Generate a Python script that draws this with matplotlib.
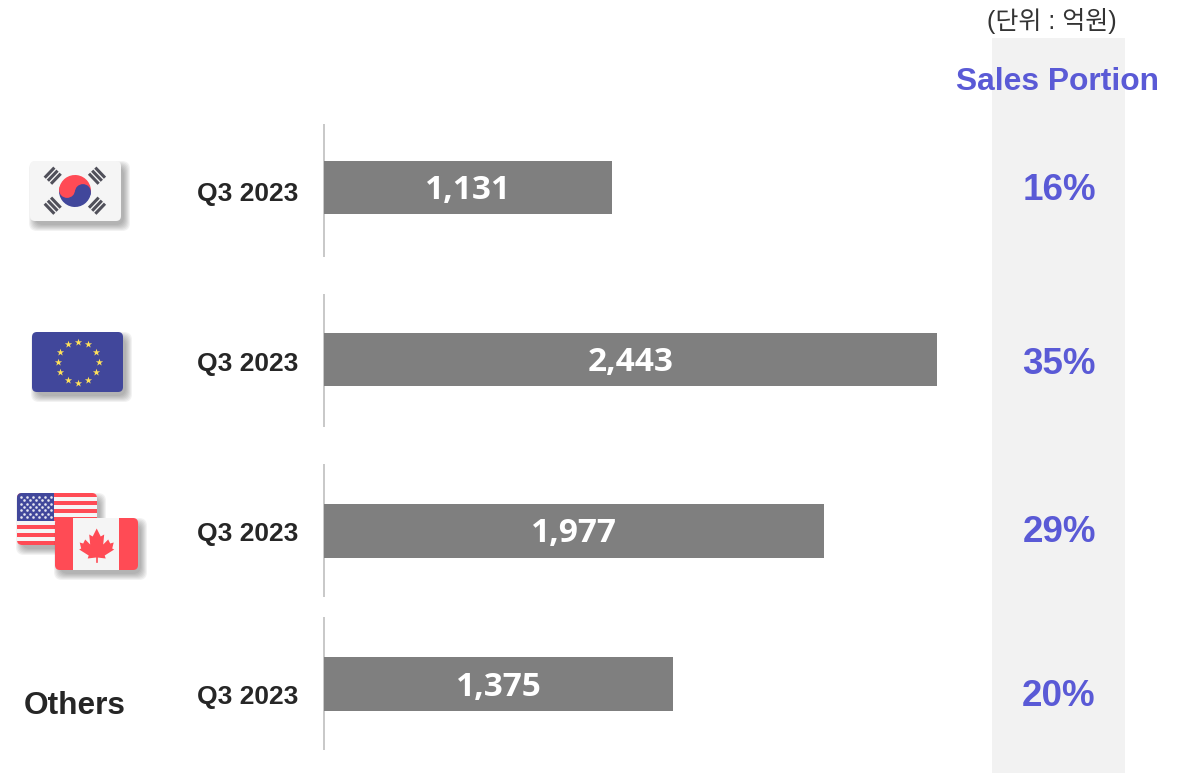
#!/usr/bin/env python3
"""Q3 2023 sales by region, one small bar chart per row, with flags and sales portion."""

import numpy as np
import matplotlib
matplotlib.use('Agg')
import matplotlib.pyplot as plt
from matplotlib.patches import Circle, FancyBboxPatch, Polygon, Rectangle, Wedge

W, H = 1186, 773

PERIODS = ['Q3 2023', 'Q3 2023', 'Q3 2023', 'Q3 2023']
SALES = [1131, 2443, 1977, 1375]
PORTIONS = ['16%', '35%', '29%', '20%']

# every row is its own little chart, each with a slightly different scale
ROW_XMAX = [2655, 2694, 2673, 2664]
ROW_TOP = [124, 294, 464, 617]
ROW_BOTTOM = [257, 427, 597, 750]
BAR_CENTER = [187.5, 359.5, 531, 684]
LABEL_Y = [194, 364, 534, 697]
PORTION_Y = [190, 364, 533, 697]

GREY = '#7f7f7f'
PURPLE = '#5a5ad6'
DARK = '#262626'
RED = '#ff4b55'
BLUE = '#41479b'
SANS = 'Liberation Sans'


def flag_base(ax, x0, y0, x1, y1, color):
    # soft shadow built from stacked translucent boxes
    for pad in [10, 8, 6, 4, 2, 0, -2]:
        ax.add_patch(FancyBboxPatch(
            (x0 + 4 - pad / 2, y0 + 5 - pad / 2), x1 - x0 + pad, y1 - y0 + pad,
            boxstyle='round,pad=0,rounding_size=8', fc='#404040', ec='none', alpha=0.065))
    base = FancyBboxPatch((x0, y0), x1 - x0, y1 - y0,
                          boxstyle='round,pad=0,rounding_size=5', fc=color, ec='none')
    ax.add_patch(base)
    return base


def clipped_rect(ax, base, x, y, w, h, color):
    r = Rectangle((x, y), w, h, fc=color, ec='none')
    ax.add_patch(r)
    r.set_clip_path(base)


def korea(ax):
    flag_base(ax, 30, 161, 121, 221, '#f5f5f5')
    cx, cy, r, tilt = 75, 191, 16, 8
    ax.add_patch(Wedge((cx, cy), r, 180 + tilt, 360 + tilt, fc=RED, ec='none'))
    ax.add_patch(Wedge((cx, cy), r, tilt, 180 + tilt, fc=BLUE, ec='none'))
    dx = r / 2 * np.cos(np.radians(tilt))
    dy = r / 2 * np.sin(np.radians(tilt))
    ax.add_patch(Circle((cx - dx, cy - dy), r / 2, fc=RED, ec='none'))
    ax.add_patch(Circle((cx + dx, cy + dy), r / 2, fc=BLUE, ec='none'))
    for gx, gy, sx, sy in [(52.7, 175.7, -1, -1), (97, 175.7, 1, -1),
                           (52.7, 205.7, -1, 1), (97, 205.7, 1, 1)]:
        # bars stacked along the radius, drawn across it
        ux, uy = sx * 0.72, sy * 0.69
        vx, vy = -uy, ux
        for k in [-1, 0, 1]:
            mx, my = gx + k * 4.4 * ux, gy + k * 4.4 * uy
            ax.plot([mx - 7 * vx, mx + 7 * vx], [my - 7 * vy, my + 7 * vy],
                    color='#50505a', lw=2.2, solid_capstyle='butt')


def europe(ax):
    flag_base(ax, 32, 332, 123, 392, BLUE)
    ang = np.radians(np.arange(0, 360, 30))
    ax.scatter(78 + 20.5 * np.cos(ang), 362 + 20.5 * np.sin(ang),
               marker='*', s=30, color='#ffe15a', linewidths=0, zorder=3)


def usa(ax):
    base = flag_base(ax, 17, 493, 97, 545, '#f5f5f5')
    for k in range(0, 13, 2):
        clipped_rect(ax, base, 17, 493 + k * 4, 80, 4, RED)
    clipped_rect(ax, base, 17, 493, 37, 28, BLUE)
    for row in range(7):
        n = 6 if row % 2 == 0 else 5
        off = 0 if row % 2 == 0 else 3
        xs = 21 + off + np.arange(n) * 6
        ax.scatter(xs, np.full(n, 497 + row * 3.3), marker='o', s=3.5,
                   color='#e6e6f0', linewidths=0, zorder=3)


def canada(ax):
    base = flag_base(ax, 55, 518, 138, 570, RED)
    clipped_rect(ax, base, 73, 518, 46, 52, '#f5f5f5')
    half = [(0, 0), (4, 8), (7.5, 6), (6.5, 16), (11.5, 11), (13.5, 15),
            (17, 14), (15.5, 20), (17.5, 21), (8, 27), (9, 30), (0.6, 29)]
    right = [(96.7 + x, 528.5 + y) for x, y in half]
    left = [(96.7 - x, 528.5 + y) for x, y in half[::-1]]
    ax.add_patch(Polygon(right + left, fc=RED, ec='none', zorder=3))
    ax.plot([96.7, 96.7], [555, 562], color=RED, lw=1.2, zorder=3)


def run():
    fig = plt.figure(figsize=(W / 100, H / 100), dpi=100)
    fig.patch.set_facecolor('white')

    # page layer in reference pixels, origin at the top left
    page = fig.add_axes([0, 0, 1, 1])
    page.set_xlim(0, W)
    page.set_ylim(H, 0)
    page.axis('off')

    page.add_patch(Rectangle((992, 38), 133, H - 38, fc='#f2f2f2', ec='none'))

    for i, value in enumerate(SALES):
        top, bottom = ROW_TOP[i], ROW_BOTTOM[i]
        ax = fig.add_axes([324 / W, 1 - bottom / H, 676 / W, (bottom - top) / H])
        ax.patch.set_alpha(0)
        ax.set_xlim(0, ROW_XMAX[i])
        ax.set_ylim(bottom, top)
        ax.barh(BAR_CENTER[i], value, height=53.5, color=GREY, zorder=3)
        ax.text(value / 2, BAR_CENTER[i] + 3, f'{value:,}', ha='center', va='center',
                fontsize=24, fontweight='bold', color='white', family='Open Sans',
                zorder=4)
        ax.set_xticks([])
        ax.set_yticks([])
        for name in ['top', 'right', 'bottom']:
            ax.spines[name].set_visible(False)
        ax.spines['left'].set_color('#c8c8c8')
        ax.spines['left'].set_linewidth(1.4)
        ax.spines['left'].set_capstyle('butt')
        ax.spines['left'].set_zorder(1)

        page.text(247.5, LABEL_Y[i], PERIODS[i], ha='center', va='center',
                  fontsize=19, fontweight='bold', color=DARK, family=SANS)
        page.text(1059, PORTION_Y[i], PORTIONS[i], ha='center', va='center',
                  fontsize=26.5, fontweight='bold', color=PURPLE, family=SANS)

    page.text(1057.5, 82, 'Sales Portion', ha='center', va='center',
              fontsize=22.9, fontweight='bold', color=PURPLE, family=SANS)
    page.text(1052, 21, '(단위 : 억원)', ha='center', va='center', fontsize=18,
              color='#333333', family=[SANS, 'Noto Sans CJK KR'])
    page.text(75, 706, 'Others', ha='center', va='center',
              fontsize=22.8, fontweight='bold', color=DARK, family=SANS)

    korea(page)
    europe(page)
    usa(page)
    canada(page)

    fig.savefig('out.png', dpi=100)
    plt.close(fig)


if __name__ == '__main__':
    run()
